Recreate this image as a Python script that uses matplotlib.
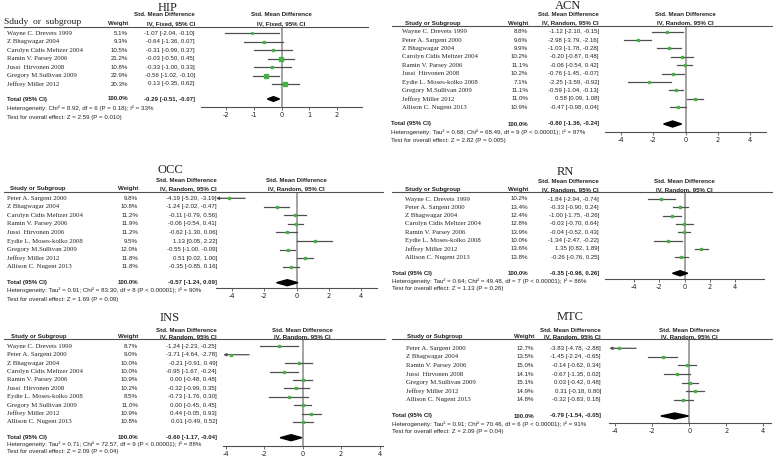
import matplotlib
matplotlib.use("Agg")
import matplotlib.pyplot as plt
from matplotlib.lines import Line2D
from matplotlib.patches import Polygon
import numpy as np

W, H = 778, 461
SERIF = "Liberation Serif"
SANS = "Liberation Sans"
GREEN = "#45b245"
INK = "#222222"
LINE = "#505050"

# =========================
# Data
# =========================

hip_studies = ["Wayne C. Drevets 1999", "Z Bhagwagar 2004", "Carolyn Cidis Meltzer 2004",
               "Ramin V. Parsey 2006", "Jussi  Hirvonen 2008", "Gregory M.Sullivan 2009",
               "Jeffrey Miller 2012"]
hip_weight = [5.1, 9.3, 10.5, 21.2, 10.8, 22.9, 20.3]
hip_smd = [-1.07, -0.64, -0.31, -0.03, -0.33, -0.56, 0.13]
hip_lo = [-2.04, -1.36, -0.99, -0.50, -1.00, -1.02, -0.35]
hip_hi = [-0.10, 0.07, 0.37, 0.45, 0.33, -0.10, 0.62]
hip_total = [-0.29, -0.51, -0.07]
hip_het = "Heterogeneity: Chi² = 8.92, df = 6 (P = 0.18); I² = 33%"
hip_test = "Test for overall effect: Z = 2.59 (P = 0.010)"

acn_studies = ["Wayne C. Drevets 1999", "Peter A. Sargent 2000", "Z Bhagwagar 2004",
               "Carolyn Cidis Meltzer 2004", "Ramin V. Parsey 2006", "Jussi  Hirvonen 2008",
               "Eydie L. Moses-kolko 2008", "Gregory M.Sullivan 2009", "Jeffrey Miller 2012",
               "Allison C. Nugent 2013"]
acn_weight = [8.8, 9.6, 9.9, 10.2, 11.1, 10.2, 7.1, 11.1, 11.0, 10.9]
acn_smd = [-1.12, -2.98, -1.03, -0.20, -0.06, -0.76, -2.25, -0.59, 0.58, -0.47]
acn_lo = [-2.10, -3.79, -1.78, -0.87, -0.54, -1.45, -3.59, -1.04, 0.09, -0.98]
acn_hi = [-0.15, -2.16, -0.28, 0.48, 0.42, -0.07, -0.92, -0.13, 1.08, 0.04]
acn_total = [-0.80, -1.36, -0.24]
acn_het = "Heterogeneity: Tau² = 0.68; Chi² = 68.49, df = 9 (P < 0.00001); I² = 87%"
acn_test = "Test for overall effect: Z = 2.82 (P = 0.005)"

occ_studies = ["Peter A. Sargent 2000", "Z Bhagwagar 2004", "Carolyn Cidis Meltzer 2004",
               "Ramin V. Parsey 2006", "Jussi  Hirvonen 2006", "Eydie L. Moses-kolko 2008",
               "Gregory M.Sullivan 2009", "Jeffrey Miller 2012", "Allison C. Nugent 2013"]
occ_weight = [9.8, 10.8, 11.2, 11.9, 11.2, 9.5, 12.0, 11.8, 11.8]
occ_smd = [-4.19, -1.24, -0.11, -0.06, -0.62, 1.13, -0.55, 0.51, -0.35]
occ_lo = [-5.20, -2.02, -0.79, -0.54, -1.30, 0.05, -1.00, 0.02, -0.85]
occ_hi = [-3.19, -0.47, 0.56, 0.41, 0.06, 2.22, -0.09, 1.00, 0.16]
occ_total = [-0.57, -1.24, 0.09]
occ_het = "Heterogeneity: Tau² = 0.91; Chi² = 83.30, df = 8 (P < 0.00001); I² = 90%"
occ_test = "Test for overall effect: Z = 1.69 (P = 0.09)"

rn_studies = ["Wayne C. Drevets 1999", "Peter A. Sargent 2000", "Z Bhagwagar 2004",
              "Carolyn Cidis Meltzer 2004", "Ramin V. Parsey 2006", "Eydie L. Moses-kolko 2008",
              "Jeffrey Miller 2012", "Allison C. Nugent 2013"]
rn_weight = [10.2, 13.4, 12.4, 12.8, 13.9, 10.0, 13.6, 13.8]
rn_smd = [-1.84, -0.33, -1.00, -0.03, -0.04, -1.34, 1.35, -0.26]
rn_lo = [-2.94, -0.90, -1.75, -0.70, -0.52, -2.47, 0.82, -0.76]
rn_hi = [-0.74, 0.24, -0.26, 0.64, 0.43, -0.22, 1.89, 0.25]
rn_total = [-0.35, -0.96, 0.26]
rn_het = "Heterogeneity: Tau² = 0.64; Chi² = 49.48, df = 7 (P < 0.00001); I² = 86%"
rn_test = "Test for overall effect: Z = 1.13 (P = 0.26)"

ins_studies = ["Wayne C. Drevets 1999", "Peter A. Sargent 2000", "Z Bhagwagar 2004",
               "Carolyn Cidis Meltzer 2004", "Ramin V. Parsey 2006", "Jussi  Hirvonen 2008",
               "Eydie L. Moses-kolko 2008", "Gregory M.Sullivan 2009", "Jeffrey Miller 2012",
               "Allison C. Nugent 2013"]
ins_weight = [8.7, 9.0, 10.0, 10.0, 10.9, 10.2, 8.5, 11.0, 10.9, 10.8]
ins_smd = [-1.24, -3.71, -0.21, -0.95, 0.00, -0.32, -0.73, 0.00, 0.44, 0.01]
ins_lo = [-2.23, -4.64, -0.91, -1.67, -0.48, -0.99, -1.76, -0.45, -0.05, -0.49]
ins_hi = [-0.25, -2.78, 0.49, -0.24, 0.48, 0.35, 0.30, 0.45, 0.93, 0.52]
ins_total = [-0.60, -1.17, -0.04]
ins_het = "Heterogeneity: Tau² = 0.71; Chi² = 72.57, df = 9 (P < 0.00001); I² = 88%"
ins_test = "Test for overall effect: Z = 2.09 (P = 0.04)"

mtc_studies = ["Peter A. Sargent 2000", "Z Bhagwagar 2004", "Ramin V. Parsey 2006",
               "Jussi  Hirvonen 2008", "Gregory M.Sullivan 2009", "Jeffrey Miller 2012",
               "Allison C. Nugent 2013"]
mtc_weight = [12.7, 13.5, 15.0, 14.1, 15.1, 14.9, 14.8]
mtc_smd = [-3.83, -1.45, -0.14, -0.67, 0.03, 0.31, -0.32]
mtc_lo = [-4.78, -2.24, -0.62, -1.35, -0.42, -0.18, -0.83]
mtc_hi = [-2.88, -0.65, 0.34, 0.02, 0.48, 0.80, 0.18]
mtc_total = [-0.79, -1.54, -0.05]
mtc_het = "Heterogeneity: Tau² = 0.91; Chi² = 70.46, df = 6 (P < 0.00001); I² = 91%"
mtc_test = "Test for overall effect: Z = 2.09 (P = 0.04)"


def fx(x):
    return x / W


def fy(y):
    return 1 - y / H


def txt(fig, x, y, s, size=4.4, family=SANS, **kw):
    fig.text(fx(x), fy(y), s, va="center", fontsize=size, family=family, color=INK, **kw)


def fmt_est(m, lo, hi):
    return f"{m:.2f} [{lo:.2f}, {hi:.2f}]"


def draw_panel(fig, title, method, studies, weight, smd, lo, hi, total, het, test, L):
    n = len(studies)
    rows = L["row0"] + L["step"] * np.arange(n)
    xmin, xmax = L["xlim"]
    ax_x0, ax_x1 = L["ax_x"]
    zero_x = ax_x0 + (0 - xmin) / (xmax - xmin) * (ax_x1 - ax_x0)

    # title and headers
    txt(fig, L["title"][0], L["title"][1], title, size=9, family=SERIF, ha="center")
    txt(fig, L["est_r"], L["hdr1"], "Std. Mean Difference", ha="right", fontweight="bold")
    txt(fig, zero_x, L["hdr1"], "Std. Mean Difference", ha="center", fontweight="bold")
    if L.get("serif_hdr"):
        txt(fig, L["hdr_x"], L["hdr2"] - 1, "Sdudy  or  subgroup", size=6.8, family=SERIF, ha="left")
    else:
        txt(fig, L["hdr_x"], L["hdr2"], "Study or Subgroup", ha="left", fontweight="bold")
    txt(fig, L["w_r"], L["hdr2"], "Weight", ha="right", fontweight="bold")
    txt(fig, L["est_r"], L["hdr2"], f"IV, {method}, 95% CI", ha="right", fontweight="bold")
    txt(fig, zero_x, L["hdr2"], f"IV, {method}, 95% CI", ha="center", fontweight="bold")
    fig.add_artist(Line2D([fx(L["line_x"][0]), fx(L["line_x"][1])], [fy(L["line_y"])] * 2,
                          transform=fig.transFigure, color=LINE, lw=0.8))

    # study rows
    for i in range(n):
        txt(fig, L["name_x"], rows[i], studies[i], size=4.9, family=SERIF, ha="left")
        txt(fig, L["w_r"], rows[i], f"{weight[i]:.1f}%", ha="right")
        txt(fig, L["est_r"], rows[i], fmt_est(smd[i], lo[i], hi[i]), ha="right")

    # total and footers
    txt(fig, L["foot_x"], L["total"], "Total (95% CI)", ha="left", fontweight="bold")
    txt(fig, L["w_r"], L["total"], "100.0%", ha="right", fontweight="bold")
    txt(fig, L["est_r"], L["total"], fmt_est(*total), ha="right", fontweight="bold")
    txt(fig, L["foot_x"], L["het"], het, ha="left")
    txt(fig, L["foot_x"], L["test"], test, ha="left")

    # forest axes, y in pixel units of the figure
    ax = fig.add_axes([fx(ax_x0), fy(L["axis_y"]), (ax_x1 - ax_x0) / W,
                       (L["axis_y"] - L["line_y"]) / H])
    ax.set_xlim(xmin, xmax)
    ax.set_ylim(L["axis_y"], L["line_y"])
    ax.patch.set_alpha(0)
    for s in ["top", "left", "right"]:
        ax.spines[s].set_visible(False)
    ax.spines["bottom"].set_color(LINE)
    ax.spines["bottom"].set_linewidth(0.8)
    ax.set_yticks([])
    ax.set_xticks(L["ticks"])
    ax.set_xticklabels([f"{t:g}" for t in L["ticks"]])
    ax.tick_params(axis="x", labelsize=4.8, length=2, width=0.6, pad=1.5, colors=LINE,
                   labelcolor=INK)
    ax.axvline(0, color="#8a8a8a", lw=1.1, zorder=1)

    for i in range(n):
        if lo[i] < xmin:
            ax.annotate("", xy=(xmin, rows[i]), xytext=(hi[i], rows[i]),
                        arrowprops=dict(arrowstyle="-|>", color=LINE, lw=0.9,
                                        mutation_scale=4, shrinkA=0, shrinkB=0))
        else:
            ax.plot([lo[i], hi[i]], [rows[i], rows[i]], color=LINE, lw=0.9, zorder=2)
        ax.plot(smd[i], rows[i], marker="s", ms=0.8 + weight[i] * 0.07, color=GREEN,
                mec=GREEN, lw=0, zorder=3)
    h = L.get("dh", 2.6)
    m, a, b = total
    ax.add_patch(Polygon([(a, L["total"]), (m, L["total"] - h), (b, L["total"]),
                          (m, L["total"] + h)], closed=True, color="black", zorder=4))


fig = plt.figure(figsize=(W / 100, H / 100), dpi=100)

draw_panel(fig, "HIP", "Fixed", hip_studies, hip_weight, hip_smd, hip_lo, hip_hi,
           hip_total, hip_het, hip_test,
           dict(title=(168, 8), hdr1=15, hdr2=23.5, hdr_x=4, serif_hdr=True, w_r=128,
                est_r=195, line_x=(4, 368), line_y=27, row0=33.3, step=8.45, name_x=7,
                foot_x=7, total=99, het=108, test=117, ax_x=(201, 362), xlim=(-2.9, 2.9),
                axis_y=107, ticks=[-2, -1, 0, 1, 2], dh=2.4))

draw_panel(fig, "ACN", "Random", acn_studies, acn_weight, acn_smd, acn_lo, acn_hi,
           acn_total, acn_het, acn_test,
           dict(title=(568, 6), hdr1=15, hdr2=23, hdr_x=405, w_r=528, est_r=599,
                line_x=(392, 772), line_y=26, row0=31.7, step=8.4, name_x=402, foot_x=391,
                total=124, het=132.3, test=140.7, ax_x=(605, 766), xlim=(-5, 5),
                axis_y=131.7, ticks=[-4, -2, 0, 2, 4], dh=3))

draw_panel(fig, "OCC", "Random", occ_studies, occ_weight, occ_smd, occ_lo, occ_hi,
           occ_total, occ_het, occ_test,
           dict(title=(170, 170), hdr1=180, hdr2=188.5, hdr_x=10, w_r=138, est_r=217,
                line_x=(4, 383), line_y=192, row0=198.3, step=8.55, name_x=7, foot_x=7,
                total=282.7, het=290.5, test=299.3, ax_x=(216, 377), xlim=(-5, 5),
                axis_y=288.3, ticks=[-4, -2, 0, 2, 4], dh=3))

draw_panel(fig, "RN", "Random", rn_studies, rn_weight, rn_smd, rn_lo, rn_hi,
           rn_total, rn_het, rn_test,
           dict(title=(565, 172), hdr1=181.7, hdr2=189.5, hdr_x=405, w_r=528, est_r=599,
                line_x=(392, 772), line_y=192.3, row0=199, step=8.33, name_x=405,
                foot_x=392, total=273.3, het=280.7, test=288.3, ax_x=(605, 764),
                xlim=(-6.35, 6.35), axis_y=279, ticks=[-4, -2, 0, 2, 4], dh=2.6))

draw_panel(fig, "INS", "Random", ins_studies, ins_weight, ins_smd, ins_lo, ins_hi,
           ins_total, ins_het, ins_test,
           dict(title=(170, 318), hdr1=330, hdr2=336.5, hdr_x=10.7, w_r=138, est_r=217,
                line_x=(4, 385), line_y=339.3, row0=346.3, step=8.41, name_x=7, foot_x=7,
                total=437.7, het=444.3, test=451.7, ax_x=(223.3, 383.3),
                xlim=(-4.12, 4.19), axis_y=445.7, ticks=[-4, -2, 0, 2, 4], dh=3))

draw_panel(fig, "MTC", "Random", mtc_studies, mtc_weight, mtc_smd, mtc_lo, mtc_hi,
           mtc_total, mtc_het, mtc_test,
           dict(title=(570, 317), hdr1=330, hdr2=336.8, hdr_x=407, w_r=534, est_r=601,
                line_x=(392, 772), line_y=339.3, row0=348.3, step=8.57, name_x=406,
                foot_x=392, total=416, het=424.3, test=431.7, ax_x=(609.3, 770.7),
                xlim=(-4.33, 4.4), axis_y=423.3, ticks=[-4, -2, 0, 2, 4], dh=3))

fig.savefig("out.png", dpi=100)
